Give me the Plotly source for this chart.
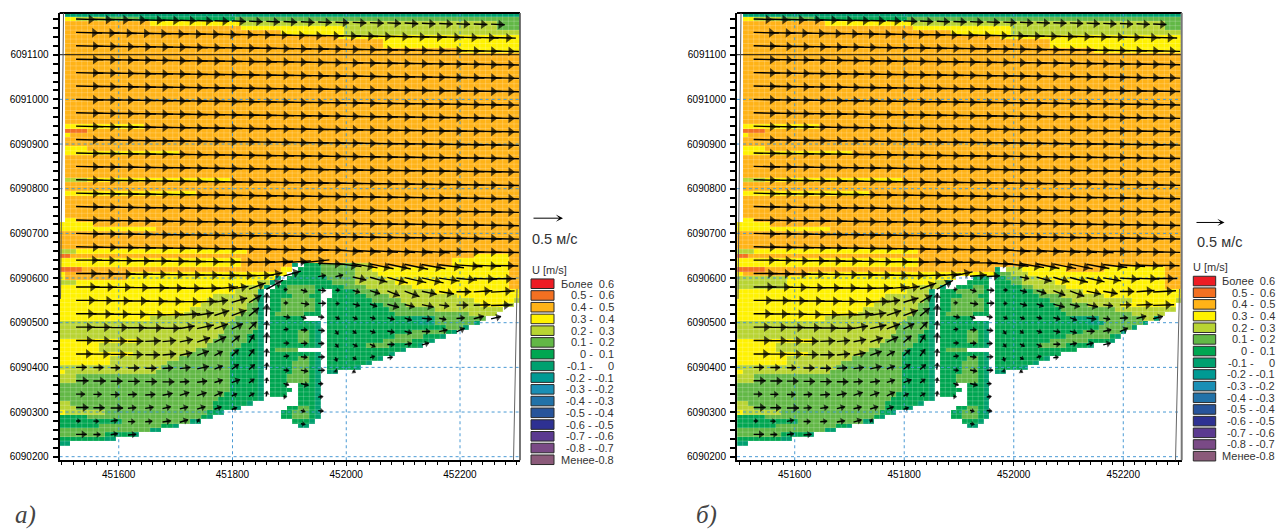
import math
import plotly.graph_objects as go

W, H = 1281, 530

# class keys, value ranges and colours of the U [m/s] legend
CLASS_KEYS = ["R", "O", "A", "Y", "L", "G", "D", "T", "t", "b", "c", "d", "e", "f", "g", "h"]
CLASS_LABELS = ["Более\u00a0\u00a00.6", "0.5 -\u00a0\u00a00.6", "0.4 -\u00a0\u00a00.5", "0.3 -\u00a0\u00a00.4",
                "0.2 -\u00a0\u00a00.3", "0.1 -\u00a0\u00a00.2", "0 -\u00a0\u00a00.1", "-0.1 -\u00a0\u00a0\u00a0\u00a0\u00a00",
                "-0.2 - -0.1", "-0.3 - -0.2", "-0.4 - -0.3", "-0.5 - -0.4", "-0.6 - -0.5", "-0.7 - -0.6",
                "-0.8 - -0.7", "Менее-0.8"]
CLASS_COLOURS = ["#ed1c24", "#f37021", "#ffb317", "#fff200", "#b8d433", "#62b846", "#00a651", "#00a06f",
                 "#009a93", "#1a8fb5", "#2272a8", "#27549b", "#2e3192", "#5b3a90", "#7a4a86", "#8b5a7a"]

# model cells: rows from north to south, every row is "class+end column" runs
ROWS_A = [
    (1, ".1 T81"), (1, ".1 Y3 L8 G14 D31 G81"), (1, ".1 A16 Y32 L77 G81"), (1, ".1 A32 Y50 L77 G81"),
    (1, ".1 A39 Y50 L81"), (1, ".1 A49 Y81"), (2, ".1 A57 Y81"), (1, ".1 A70 Y81"),
    (16, ".1 A81"), (1, ".1 Y15 A81"), (1, ".1 O5 A81"), (1, ".1 Y2 A81"), (2, ".1 A81"),
    (1, ".1 Y5 A81"), (1, ".1 Y21 A81"), (5, ".1 A81"), (1, ".1 L5 Y30 A81"), (2, ".1 A81"),
    (1, ".1 Y24 A81"), (5, ".1 A81"), (1, ".1 Y3 A81"), (1, "Y6 A81"), (1, "Y17 A81"), (4, "A81"),
    (1, "L3 Y33 A81"), (1, "O2 A73 Y79 A81"), (1, "Y32 A69 Y79 A81"),
    (1, "Y32 A41 T42 .43 D46 G52 L55 A69 Y79 A81"),
    (1, "O4 A39 Y41 .42 D46 G52 L55 Y79 A81"),
    (1, "Y1 A12 Y40 .41 D46 G52 L56 Y79 A81"),
    (1, "Y1 A12 Y38 T39 .40 D47 G52 L57 Y79 A81"),
    (1, "L3 Y35 L37 T38 .39 D48 G52 L59 Y79 A81"),
    (1, "Y32 L36 T37 .38 D40 G45 D50 G54 L62 Y79 A81"),
    (1, "Y31 L35 T36 .37 D40 G45 D46 .48 D52 G56 L66 Y81"),
    (1, "Y27 L35 T36 .37 D41 G44 D46 .48 D54 G58 L70 Y81"),
    (1, "Y26 L34 G35 T36 .37 D39 G45 D46 .47 D55 G60 L73 Y80 L81"),
    (1, "Y25 L33 G35 T36 .37 D39 G45 D46 .47 D57 G61 L74 Y78 L80 .81"),
    (1, "Y23 L33 G35 T36 .37 D39 G45 D46 .47 D58 G66 L78 .81"),
    (1, "Y22 L32 G35 T36 .37 D38 G43 D46 .47 D59 G72 L77 .81"),
    (1, "Y16 L31 G35 T36 .37 D43 .47 D62 T66 G75 .81"),
    (1, "L30 G35 T36 .37 D45 T46 .47 D63 T66 G73 T74 .81"),
    (1, "L29 G35 T36 .37 D45 T46 .47 D68 G71 T72 .81"),
    (1, "L29 G34 D35 T36 .37 D42 G44 D45 T46 .47 D62 G68 D69 T70 .81"),
    (1, "L28 G33 D35 T36 .37 D42 G44 D45 T46 .47 D59 G64 D67 T68 .81"),
    (1, "Y14 L27 G33 D35 T36 .37 D42 G44 D45 T46 .47 D57 G62 D65 T66 .81"),
    (1, "Y7 L26 G32 D35 T36 .37 D45 T46 .47 D54 G58 D63 T64 .81"),
    (1, "Y7 L24 G31 D35 T36 .37 D38 G42 .47 D60 T61 .81"),
    (1, "Y13 L23 G30 D35 T36 .37 D45 T46 .47 D58 T59 .81"),
    (1, "Y9 L21 G30 D35 T36 .37 D42 G44 D45 T46 .47 D56 T57 .81"),
    (1, "Y9 L19 G30 D35 T36 .37 D41 G44 D45 T46 .47 D54 T55 .81"),
    (1, "L18 G30 D35 T36 .37 D41 G44 D45 T46 .47 D52 T53 .81"),
    (1, "Y1 L17 G30 D35 T36 .37 D41 G44 D45 T46 .47 T49 .81"),
    (2, "L3 G30 D35 T36 .37 D40 G44 D45 T46 .81"),
    (1, "G30 D35 T36 .37 D40 .42 D45 T46 .81"),
    (1, "G30 D35 T36 .37 D41 .42 D45 T46 .81"),
    (1, "G29 D35 T36 .37 D40 .42 D45 T46 .81"),
    (1, "G28 D35 T36 .42 D45 T46 .81"),
    (1, "L2 G27 D33 T34 .42 D45 T46 .81"),
    (1, "L3 G27 D31 T32 .40 D42 G44 D45 T46 .81"),
    (1, "Y1 L8 G26 D28 T29 .39 D41 G44 D45 T46 .81"),
    (1, "D5 G25 D26 T27 .39 D41 G44 D45 T46 .81"),
    (1, "D11 G23 T25 .41 D44 T45 .81"),
    (1, "D7 G18 D20 T21 .42 T44 .81"),
    (1, "G16 T18 .81"), (1, "G8 D13 T14 .81"), (1, "D8 T10 .81"), (1, "T2 .81"), (3, ".81"),
]
# rows of panel b that differ from panel a (row number counted from the north)
ROWS_B_CHANGED = {
    2: ".1 A16 Y32 L78 G81", 3: ".1 A32 Y50 L78 G81", 5: ".1 A48 Y81", 8: ".1 A65 Y81",
    54: "O2 A81", 55: "Y33 A81", 56: "Y33 A81",
    57: "O5 A47 T48 .49 L52 Y60 A67 Y78 A81",
    58: "Y1 A13 Y47 D48 G50 L53 Y78 A81",
    59: "L9 Y40 .43 D46 .47 D49 G52 L55 Y78 A81",
    60: "L9 Y36 L38 T39 .42 D46 .47 D50 G52 L58 Y78 A81",
    61: "L9 Y33 L37 T38 .40 D43 G45 D46 .47 D52 G54 L60 Y78 A81",
    62: "Y31 L35 T36 .37 D40 G45 D46 .47 D54 G56 L63 Y81",
    63: "Y27 L35 T36 .37 D41 G44 D46 .47 D55 G59 L67 Y81",
    64: "Y26 L34 G35 T36 .37 D39 G45 D46 .47 D57 G61 L72 Y80 L81",
    65: "Y25 L33 G35 T36 .37 D39 G45 D46 .47 D58 G64 L70 Y80 .81",
    66: "Y23 L33 G35 T36 .37 D39 G45 D46 .47 D59 G69 L80 .81",
    67: "Y22 L32 G35 T36 .37 D38 G43 D46 .47 D60 G72 L78 .81",
    68: "Y16 L31 G35 T36 .37 D43 .47 D61 T66 G74 L76 T77 .81",
    69: "L30 G35 T36 .37 D45 T46 .47 D64 T67 G74 T75 .81",
    70: "L29 G35 T36 .37 D45 T46 .47 D66 G72 T73 .81",
    71: "L29 G34 D35 T36 .37 D42 G44 D45 T46 .47 D63 G70 T71 .81",
    72: "L28 G33 D35 T36 .37 D42 G44 D45 T46 .47 D60 G68 D69 T70 .81",
    73: "Y14 L27 G33 D35 T36 .37 D42 G44 D45 T46 .47 D57 G64 D68 T69 .81",
    74: "Y7 L26 G32 D35 T36 .37 D45 T46 .47 D55 G60 D64 T65 .81",
    75: "Y7 L24 G31 D35 T36 .37 D38 G42 .47 D62 .81",
    76: "Y13 L23 G30 D35 T36 .37 D45 T46 .47 D59 .81",
}

# flow vectors, hundredths of m/s, 32 rows (north to south) by 25 columns
N = None
U_UP = [44, 44, 45, 45, 45, 45, 45, 45, 45, 45, 45, 45, 45, 45, 45, 45, 45, 45, 45, 45, 45, 45, 45, 45, 45]
V_UP = [-1, -1, -1, -1, -1, -1, -1, -1, -1, -1, -1, -1, -1, -1, -1, -1, -1, -1, -1, -1, -1, -1, -1, -1, -1]
U_A = [
    [34, 34, 34, 33, 32, 30, 28, 26, 24, 23, 22, 22, 22, 22, 22, 22, 22, 22, 22, 22, 22, 22, 22, 22, 22],
    [42, 42, 42, 42, 42, 42, 42, 42, 42, 42, 42, 41, 41, 41, 41, 41, 41, 40, 40, 40, 40, 40, 40, 40, 40],
    U_UP, U_UP, U_UP, U_UP, U_UP, U_UP, U_UP, U_UP, U_UP, U_UP, U_UP, U_UP, U_UP, U_UP, U_UP, U_UP,
    [42, 42, 42, 42, 42, 42, 42, 42, 42, 42, 42, 43, 44, 46, 44, 42, 40, 38, 38, 38, 38, 40, 42, 44, 44],
    [40, 40, 40, 40, 40, 40, 40, 40, 40, 40, 40, 26, 28, N, 12, 12, 22, 28, 33, 35, 35, 33, 33, 38, 40],
    [38, 38, 38, 38, 38, 38, 38, 38, 38, 27, 27, 27, 5, 10, 12, 6, 11, 16, 20, 24, 24, 24, 24, 30, 38],
    [35, 35, 35, 35, 36, 35, 35, 33, 22, 25, 20, 1, 6, 13, 12, 5, 11, 11, 19, 16, 19, 16, 19, 27, 35],
    [33, 33, 33, 33, 33, 33, 33, 27, 24, 24, 16, 1, 10, 8, 9, 6, 7, 8, 11, 11, 16, 11, 13, 16, 16],
    [30, 30, 30, 30, 30, 30, 24, 27, 22, 18, 12, 1, 7, 10, 10, 4, 5, 8, 11, 11, 13, 13, 13, N, N],
    [30, 30, 27, 25, 25, 22, 21, 21, 19, 13, 8, 1, 8, 10, 9, 4, 7, 8, 11, 11, 11, N, N, N, N],
    [28, 28, 27, 25, 24, 22, 20, 19, 13, 11, 8, 1, 8, 10, 10, 2, 5, 7, 8, N, N, N, N, N, N],
    [17, 16, 15, 18, 18, 17, 17, 19, 13, 11, 9, 1, 8, 11, 10, 1, 3, N, N, N, N, N, N, N, N],
    [20, 20, 19, 19, 19, 19, 15, 16, 13, 13, 8, 1, 8, 12, 7, N, N, N, N, N, N, N, N, N, N],
    [14, 13, 14, 14, 16, 16, 15, 15, 13, 8, 8, 1, 3, N, 7, N, N, N, N, N, N, N, N, N, N],
    [20, 18, 20, 13, 13, 13, 13, 13, 11, 8, N, N, N, 6, 8, N, N, N, N, N, N, N, N, N, N],
    [6, 8, 11, 11, 11, 13, 13, 3, N, N, N, N, N, 6, N, N, N, N, N, N, N, N, N, N, N],
    [17, 11, 11, 13, N, N, N, N, N, N, N, N, N, N, N, N, N, N, N, N, N, N, N, N, N],
]
V_A = [
    V_UP, V_UP, V_UP, V_UP, V_UP, V_UP, V_UP, V_UP, V_UP, V_UP, V_UP, V_UP, V_UP, V_UP, V_UP, V_UP, V_UP,
    [-1, -1, -1, -1, -1, -1, -1, -1, -1, -1, -1, -1, -1, -1, -1, -3, -3, -3, -3, -3, -3, -1, -1, -1, -1],
    [0, 0, 0, 0, 0, 0, 0, 0, 0, 0, 1, 2, 3, 5, -2, -5, -7, -8, -8, -8, -7, -5, -3, -2, -1],
    [0, 0, 0, 0, 0, 0, 0, 0, 0, 0, 1, 5, 8, N, 2, 3, -5, -8, -9, -8, -8, -5, -3, -1, 0],
    [0, 0, 0, 0, 0, 0, 0, 1, 3, 4, 10, 15, 0, -3, -1, 0, -3, -5, -8, -9, -5, -4, 0, 2, 2],
    [0, 0, 0, 0, 0, 0, 0, 1, 3, 7, 12, 16, 0, -2, 0, 0, -3, -4, -5, -4, -4, -2, 0, 1, 1],
    [0, 0, 0, 0, 0, 1, 2, 4, 8, 9, 13, 20, -2, -3, -1, -3, -3, -2, -3, -4, -2, -2, 1, 4, 4],
    [0, 0, 0, 0, 0, 0, 4, 6, 8, 9, 12, 14, 1, 0, -1, -6, -4, -3, -2, -3, 0, 3, 6, N, N],
    [0, 0, 0, 0, 1, 2, 4, 7, 9, 11, 13, 17, 0, 0, 0, -5, -4, -4, 0, 2, 3, N, N, N, N],
    [0, 0, 0, 0, 0, 2, 4, 7, 7, 10, 11, 12, 1, -1, 0, -6, -3, 2, 1, N, N, N, N, N, N],
    [0, 0, 0, 0, 0, 1, 2, 4, 5, 8, 8, 11, -1, -2, 0, -1, -2, N, N, N, N, N, N, N, N],
    [0, 0, 0, 0, 0, 0, 1, 2, 4, 5, 6, 8, -3, -3, 0, N, N, N, N, N, N, N, N, N, N],
    [0, 0, 0, 1, 1, 3, 5, 5, 6, 4, 5, 8, 0, N, 1, N, N, N, N, N, N, N, N, N, N],
    [0, 0, 0, 1, 2, 3, 3, 4, 4, 3, N, N, N, -2, -1, N, N, N, N, N, N, N, N, N, N],
    [0, 0, 2, 0, 1, 2, 4, 5, N, N, N, N, N, -1, N, N, N, N, N, N, N, N, N, N, N],
    [0, 0, 2, 1, N, N, N, N, N, N, N, N, N, N, N, N, N, N, N, N, N, N, N, N, N],
]
# vector rows of panel b that differ from panel a
U_B_CHANGED = {
    19: [40, 40, 40, 40, 40, 40, 40, 40, 40, 40, 42, 40, 32, 28, 22, N, 15, 25, 27, 30, 30, 30, 33, 38, 40],
    24: [30, 30, 27, 25, 25, 22, 21, 21, 19, 13, 8, 1, 8, 10, 9, 4, 7, 8, 11, 11, 11, 12, N, N, N],
}
V_B_CHANGED = {
    18: [0, 0, 0, 0, 0, 0, 0, 0, 0, 0, 1, 1, 1, 0, -2, -5, -7, -8, -8, -8, -7, -5, -3, -2, -1],
    19: [0, 0, 0, 0, 0, 0, 0, 0, 0, 0, 1, 3, 7, 2, 1, N, -3, -7, -8, -8, -7, -5, -2, -1, 0],
    24: [0, 0, 0, 0, 1, 2, 4, 7, 9, 11, 13, 17, 0, 0, 0, -5, -4, -4, 0, 2, 3, 3, N, N, N],
}

X_TICKS = [451600, 451800, 452000, 452200]
Y_TICKS = [6090200, 6090300, 6090400, 6090500, 6090600, 6090700, 6090800, 6090900, 6091000, 6091100]
REF_TEXT = "0.5 м/с"
PANEL_LABELS = ["а)", "б)"]

CELL_X = [451500 + 10 * i for i in range(81)]
CELL_Y = [6091190 - 10 * r for r in range(100)]
ARROW_X = [451525 + 30.4 * k for k in range(25)]
ARROW_Y = [6091180 - 30 * j for j in range(32)]
SKEW = 0.0125          # the arrow rows lean slightly to the south-east on the screen


def expand(rows):
    out = []
    for count, runs in rows:
        out += [runs] * count
    return out


def to_z(rows):
    z = []
    for runs in rows:
        row, col = [], 0
        for tok in runs.split():
            end = int(tok[1:])
            val = None if tok[0] == "." else CLASS_KEYS.index(tok[0]) + 0.5
            row += [val] * (end - col)
            col = end
        z.append(row)
    return z


n = len(CLASS_COLOURS)
colorscale = []
for i, c in enumerate(CLASS_COLOURS):
    colorscale += [[i / n, c], [(i + 1) / n, c]]

rows_a = expand(ROWS_A)
rows_b = list(rows_a)
for r, runs in ROWS_B_CHANGED.items():
    rows_b[r] = runs
u_b = list(U_A)
v_b = list(V_A)
for j, row in U_B_CHANGED.items():
    u_b[j] = row
for j, row in V_B_CHANGED.items():
    v_b[j] = row

PANELS = [
    dict(x="x", y="y", xa="xaxis", ya="yaxis", px=(59.6, 520.0), xr=(451496, 452305.5),
         yr=(6090192, 6091193.5), rows=rows_a, u=U_A, v=V_A, scale=62.0),
    dict(x="x2", y="y2", xa="xaxis2", ya="yaxis2", px=(737.0, 1181.7), xr=(451494.6, 452306.7),
         yr=(6090192, 6091193.5), rows=rows_b, u=u_b, v=v_b, scale=60.0),
]
TOP, BOT = 13.0, 462.0

fig = go.Figure()
layout = {}


def X(p):
    return p / W


def Y(p):
    return 1 - p / H


for p in PANELS:
    xk, yk = p["x"], p["y"]
    ppx = (p["px"][1] - p["px"][0]) / (p["xr"][1] - p["xr"][0])
    ppy = (BOT - TOP) / (p["yr"][1] - p["yr"][0])
    fig.add_trace(go.Heatmap(x=CELL_X, y=CELL_Y, z=to_z(p["rows"]), zmin=0, zmax=n, colorscale=colorscale,
                             showscale=False, hoverongaps=False, xaxis=xk, yaxis=yk))
    # faint cell outlines
    gx, gy = [], []
    for cx in CELL_X:
        gx += [cx + 5, cx + 5, None]
        gy += [p["yr"][0], p["yr"][1], None]
    for cy in CELL_Y:
        gx += [p["xr"][0], p["xr"][1], None]
        gy += [cy + 5, cy + 5, None]
    fig.add_trace(go.Scatter(x=gx, y=gy, mode="lines", line=dict(color="rgba(255,255,255,0.2)", width=1),
                             hoverinfo="skip", showlegend=False, xaxis=xk, yaxis=yk))
    # dotted coordinate lines
    dx, dy = [], []
    for t in X_TICKS:
        dx += [t, t, None]
        dy += [p["yr"][0], p["yr"][1], None]
    for t in Y_TICKS:
        if t != 6091100:
            dx += [p["xr"][0], p["xr"][1], None]
            dy += [t, t, None]
    fig.add_trace(go.Scatter(x=dx, y=dy, mode="lines", line=dict(color="#4a9ad4", width=1, dash="dot"),
                             hoverinfo="skip", showlegend=False, xaxis=xk, yaxis=yk))
    fig.add_trace(go.Scatter(x=list(p["xr"]), y=[6091100, 6091100], mode="lines",
                             line=dict(color="#111111", width=1), hoverinfo="skip", showlegend=False,
                             xaxis=xk, yaxis=yk))
    # vectors
    sx, sy, hx, hy, ang, size = [], [], [], [], [], []
    for j, y0 in enumerate(ARROW_Y):
        for k, x0 in enumerate(ARROW_X):
            uu, vv = p["u"][j][k], p["v"][j][k]
            if uu is None or vv is None:
                continue
            lx, ly = uu / 100 * p["scale"], vv / 100 * p["scale"]
            length = (lx * lx + ly * ly) ** 0.5
            ys = y0 - SKEW * (x0 - ARROW_X[0]) * ppx / ppy
            xe, ye = x0 + lx / ppx, ys + ly / ppy
            sx += [x0, min(xe, p["xr"][1]), None]
            sy += [ys, ye, None]
            hx.append(x0 + 0.7 * lx / ppx)
            hy.append(ys + 0.7 * ly / ppy)
            ang.append(-math.degrees(math.atan2(ly, lx)))
            size.append(max(5, min(8.5, 3.5 + length * 0.35)))
    fig.add_trace(go.Scatter(x=sx, y=sy, mode="lines", line=dict(color="#000000", width=1.4),
                             hoverinfo="skip", showlegend=False, xaxis=xk, yaxis=yk, cliponaxis=True))
    fig.add_trace(go.Scatter(x=hx, y=hy, mode="markers",
                             marker=dict(symbol="triangle-right", color="#000000", size=size, angle=ang,
                                         line=dict(width=0)),
                             hoverinfo="skip", showlegend=False, xaxis=xk, yaxis=yk))
    layout[p["xa"]] = dict(domain=[X(p["px"][0]), X(p["px"][1])], range=list(p["xr"]), anchor=yk,
                           tickmode="array", tickvals=X_TICKS, ticktext=[str(t) for t in X_TICKS],
                           ticks="outside", ticklen=4, tickwidth=1, tickcolor="#000000",
                           minor=dict(dtick=20, tick0=451600, ticks="outside", ticklen=3, tickwidth=1,
                                      tickcolor="#000000"),
                           showgrid=False, zeroline=False, showline=True, linecolor="#000000", linewidth=2,
                           tickfont=dict(family="Liberation Sans", size=10, color="#000000"),
                           ticklabelstandoff=0)
    layout[p["ya"]] = dict(domain=[Y(BOT), Y(TOP)], range=list(p["yr"]), anchor=xk,
                           tickmode="array", tickvals=Y_TICKS, ticktext=[str(t) for t in Y_TICKS],
                           ticks="outside", ticklen=5, tickwidth=1.5, tickcolor="#000000",
                           minor=dict(dtick=20, tick0=6090200, ticks="outside", ticklen=5, tickwidth=1.5,
                                      tickcolor="#000000"),
                           showgrid=False, zeroline=False, showline=True, linecolor="#000000", linewidth=2,
                           tickfont=dict(family="Liberation Sans", size=10, color="#000000"),
                           ticklabelstandoff=2)

shapes = []
ann = []


def line(x0, y0, x1, y1, color="#000000", width=1.0):
    shapes.append(dict(type="line", xref="paper", yref="paper", x0=X(x0), y0=Y(y0), x1=X(x1), y1=Y(y1),
                       line=dict(color=color, width=width)))


def text(x, y, s, size, anchor="left", color="#333333", family="Liberation Sans", **kw):
    ann.append(dict(xref="paper", yref="paper", x=X(x), y=Y(y), text=s, showarrow=False, xanchor=anchor,
                    yanchor="middle", borderpad=0, font=dict(family=family, size=size, color=color), **kw))


# frames
line(59.6, 13, 520, 13, "#000000", 2)
line(520, 13, 520, 462, "#555555", 1.6)
line(513.5, 462, 517, 290, "#666666", 1)
line(63.5, 13, 60.5, 300, "#555555", 1)
line(737, 13, 1181.7, 13, "#000000", 2)
line(1181.7, 13, 1181.7, 462, "#777777", 2)
line(1175.5, 462, 1179.5, 290, "#666666", 1)
line(741, 13, 738, 300, "#555555", 1)

# legends, reference arrows, captions
LEGENDS = [
    dict(x0=531, x1=554, y0=280, dy=11.78, right=615, title=(531, 271), arrow=(532, 563, 219), ref=(530.5, 240)),
    dict(x0=1193.3, x1=1215.7, y0=277.3, dy=11.72, right=1276, title=(1192, 268), arrow=(1195, 1224.5, 223.3),
         ref=(1195.5, 243)),
]
for lg in LEGENDS:
    text(lg["title"][0], lg["title"][1], "U [m/s]", 11)
    for i, (lab, col) in enumerate(zip(CLASS_LABELS, CLASS_COLOURS)):
        top = lg["y0"] + i * lg["dy"]
        shapes.append(dict(type="rect", xref="paper", yref="paper", x0=X(lg["x0"]), x1=X(lg["x1"]),
                           y0=Y(top), y1=Y(top + 9.6), fillcolor=col, line=dict(color="#2a2a2a", width=1)))
        text(lg["right"], top + 4.8, lab, 11, anchor="right", align="right")
    ax0, ax1, ay = lg["arrow"]
    ann.append(dict(xref="paper", yref="paper", x=X(ax1), y=Y(ay), axref="pixel", ayref="pixel",
                    ax=ax0 - ax1, ay=0, text="", showarrow=True, arrowhead=3, arrowsize=1.2, arrowwidth=1,
                    arrowcolor="#000000"))
    text(lg["ref"][0], lg["ref"][1], REF_TEXT, 14.5)

text(14, 517, PANEL_LABELS[0], 25, family="Liberation Sans Narrow", color="#444444")
text(695, 517, PANEL_LABELS[1], 25, family="Liberation Sans Narrow", color="#444444")
for a in ann[-2:]:
    a["text"] = "<i>" + a["text"] + "</i>"

fig.update_layout(width=W, height=H, autosize=False, margin=dict(l=0, r=0, t=0, b=0),
                  paper_bgcolor="#ffffff", plot_bgcolor="#ffffff", showlegend=False,
                  shapes=shapes, annotations=ann, **layout)
fig.write_html("out.html", config=dict(displayModeBar=False),
               post_script="document.body.style.margin='0';document.documentElement.style.overflow='hidden';")
